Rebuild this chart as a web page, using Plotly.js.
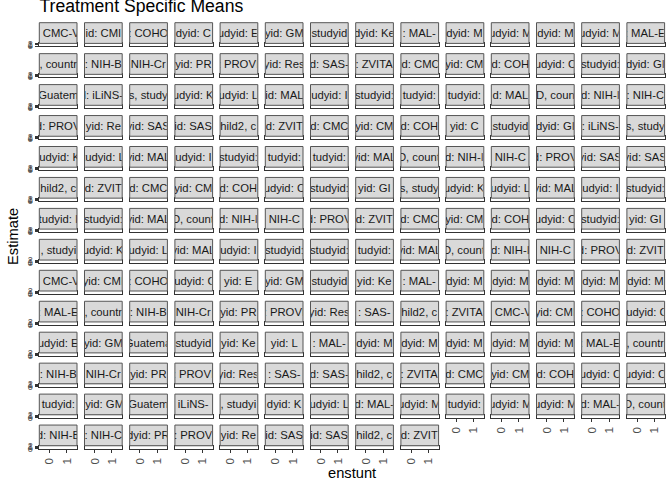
<!DOCTYPE html>
<html><head><meta charset="utf-8">
<script src="https://cdn.plot.ly/plotly-3.0.1.min.js"></script>
<style>html,body{margin:0;padding:0;background:#fff;} #chart{width:672px;height:480px;}</style>
</head><body><div id="chart"></div>
<script>
// ---- data ----
const nCols = 14;
const stripLabels = [
  ": CMC-V", "id: CMI", ": COHO", "dyid: C", "udyid: E", "yid: GM", "studyid", "dyid: Ke", ": MAL-", "dyid: M", "udyid: M", "dyid: M", "udyid: M", ": MAL-E",
  ", countr", ": NIH-B", "NIH-Cr", "yid: PR", ": PROVI", "yid: Res", "d: SAS-", ": ZVITA", "id: CMC", "yid: CM", "d: COH", "udyid: C", "studyid:", "dyid: GI",
  "Guatem", "l: iLiNS-", "s, study", "udyid: K", "udyid: L", "id: MAL", "udyid: I", "studyid:", "tudyid:", "tudyid:", "d: MAL", "D, coun", "d: NIH-I", ": NIH-C",
  "d: PROV", "yid: Re", "yid: SAS", "id: SAS", "hild2, c", "d: ZVIT", "d: CMC", "yid: CM", "d: COH", "yid: C", "studyid", "dyid: GI", ": iLiNS-", "s, study",
  "tudyid: K", "tudyid: L", "yid: MAL", "udyid: I", "studyid:", "tudyid:", "tudyid:", "yid: MAL", "D, count", "d: NIH-I", "NIH-C", "d: PROV", "yid: SAS", "yid: SAS",
  "hild2, c", "d: ZVIT", "d: CMC", "yid: CM", "d: COH", "udyid: C", "studyid:", "yid: GI", "s, study", "udyid: K", "udyid: L", "yid: MAL", "udyid: I", "studyid:",
  "tudyid: I", "studyid:", "yid: MAL", "D, count", "d: NIH-I", "NIH-C", "d: PROV", "d: ZVIT", "d: CMC", "yid: CM", "d: COH", "udyid: C", "studyid:", "yid: GI",
  ", studyi", "udyid: K", "udyid: L", "yid: MAL", "udyid: I", "studyid:", "studyid:", "tudyid:", "yid: MAL", "D, count", "d: NIH-I", "NIH-C", "d: PROV", "d: ZVIT",
  ": CMC-V", "yid: CMI", ": COHO", "tudyid: C", "yid: E", "yid: GM", "studyid", "yid: Ke", ": MAL-", "dyid: M", "dyid: M", "dyid: M", "dyid: M", "dyid: M",
  ": MAL-E", ", countr", ": NIH-B", "NIH-Cr", "yid: PR", ": PROVI", "yid: Res", ": SAS-", "hild2, c", ": ZVITA", ": CMC-V", "yid: CMI", ": COHO", "tudyid: C",
  "udyid: E", "yid: GM", "Guatema", "studyid", "yid: Ke", "yid: L", ": MAL-", "dyid: M", "dyid: M", "dyid: M", "dyid: M", "dyid: M", ": MAL-E", ", countr",
  ": NIH-B", "NIH-Cr", "yid: PR", ": PROVI", "yid: Res", ": SAS-", "d: SAS-", "hild2, c", ": ZVITA", "d: CMC", "yid: CM", "d: COH", "udyid: C", "udyid: C",
  "tudyid:", "lyid: GM", "Guatem", "iLiNS-", ", studyi", "dyid: K", "udyid: L", "d: MAL-", "udyid: M", "tudyid:", "udyid: M", "udyid: M", "d: MAL-", "D, count",
  "d: NIH-B", ": NIH-C", "dyid: PR", ": PROV", "yid: Re", "id: SAS", "id: SAS", "hild2, c", "d: ZVIT"
];
const enstuntLevels = ["0", "1"];
const estimateTickVals = [0, 1, 2];
const estimateTickText = ["0", "1", "2"];
const chartTitle = "Treatment Specific Means";
const xTitle = "enstunt";
const yTitle = "Estimate";

// ---- layout geometry (px) ----
const W0 = 672, H0 = 480;
const L = 39, R = 7, T = 22, B = 27;
const PW = W0 - L - R, PH = H0 - T - B;
const colLeft0 = 39.3, colStep = 45.2, panelW = 37.7;
const rowTop0 = 22.7, rowStep = 30.95, stripH = 20.7, panelH = 2.9;
const fx = px => (px - L) / PW;
const fy = py => 1 - (py - T) / PH;

const FONT = "Liberation Sans, Arial, Helvetica, sans-serif";
const nPanels = stripLabels.length;
const layout = {
  width: W0, height: H0,
  margin: {l: L, r: R, t: T, b: B, pad: 0},
  paper_bgcolor: "#ffffff", plot_bgcolor: "#ffffff",
  showlegend: false,
  font: {family: FONT, color: "#000"},
  title: {text: chartTitle, font: {size: 17.6, color: "#000", family: FONT},
          xref: "container", yref: "container", x: 39.5 / W0, xanchor: "left",
          y: 1 - 5.5 / H0, yanchor: "middle"},
  shapes: [], annotations: []
};
const data = [];

for (let i = 0; i < nPanels; i++) {
  const r = Math.floor(i / nCols), c = i % nCols;
  const left = colLeft0 + c * colStep;
  const top = rowTop0 + r * rowStep;
  const sfx = i === 0 ? "" : String(i + 1);
  const isBottom = i + nCols >= nPanels;
  const isLeft = c === 0;
  // one (empty) trace per facet panel so that its axes are drawn
  data.push({type: "scatter", mode: "markers", x: [], y: [],
             xaxis: "x" + sfx, yaxis: "y" + sfx, name: stripLabels[i], hoverinfo: "skip"});
  layout["xaxis" + sfx] = {
    domain: [fx(left), fx(left + panelW)], anchor: "y" + sfx,
    range: [-0.6, 1.6], tickmode: "array", tickvals: [0, 1], ticktext: enstuntLevels,
    showgrid: false, zeroline: false, showline: true, mirror: true,
    linecolor: "#333333", linewidth: 1,
    ticks: isBottom ? "outside" : "", ticklen: 3.7, tickwidth: 1, tickcolor: "#333333",
    showticklabels: isBottom, tickangle: -90,
    tickfont: {size: 11.7, color: "#4d4d4d", family: FONT},
    fixedrange: true
  };
  layout["yaxis" + sfx] = {
    domain: [fy(top + stripH + panelH), fy(top + stripH)], anchor: "x" + sfx,
    range: [-0.25, 2.25], tickmode: "array", tickvals: estimateTickVals, ticktext: estimateTickText,
    showgrid: false, zeroline: false, showline: true, mirror: true,
    linecolor: "#333333", linewidth: 1,
    ticks: isLeft ? "outside" : "", ticklen: 3.7, tickwidth: 1, tickcolor: "#333333",
    showticklabels: isLeft,
    tickfont: {size: 9, color: "#4d4d4d", family: FONT},
    fixedrange: true
  };
  layout.shapes.push({
    type: "rect", xref: "paper", yref: "paper", layer: "above",
    x0: fx(left), x1: fx(left + panelW), y0: fy(top + stripH), y1: fy(top),
    fillcolor: "#d9d9d9", line: {color: "#555555", width: 1}
  });
  layout.annotations.push({
    xref: "paper", yref: "paper", x: fx(left + panelW / 2), y: fy(top + stripH / 2),
    xanchor: "center", yanchor: "middle", showarrow: false,
    text: stripLabels[i], width: panelW - 1, height: stripH - 3, borderpad: 0,
    align: "center", valign: "middle",
    font: {size: 11.3, color: "#1a1a1a", family: FONT}
  });
}

layout.annotations.push({
  xref: "paper", yref: "paper", x: 0.5, y: fy(473), xanchor: "center", yanchor: "middle",
  showarrow: false, text: xTitle, font: {size: 14.7, color: "#000", family: FONT}
});
layout.annotations.push({
  xref: "paper", yref: "paper", x: fx(13), y: fy(237), xanchor: "center", yanchor: "middle",
  showarrow: false, text: yTitle, textangle: -90, font: {size: 14.7, color: "#000", family: FONT}
});

Plotly.newPlot("chart", data, layout, {staticPlot: true, displayModeBar: false});
</script>
</body></html>
